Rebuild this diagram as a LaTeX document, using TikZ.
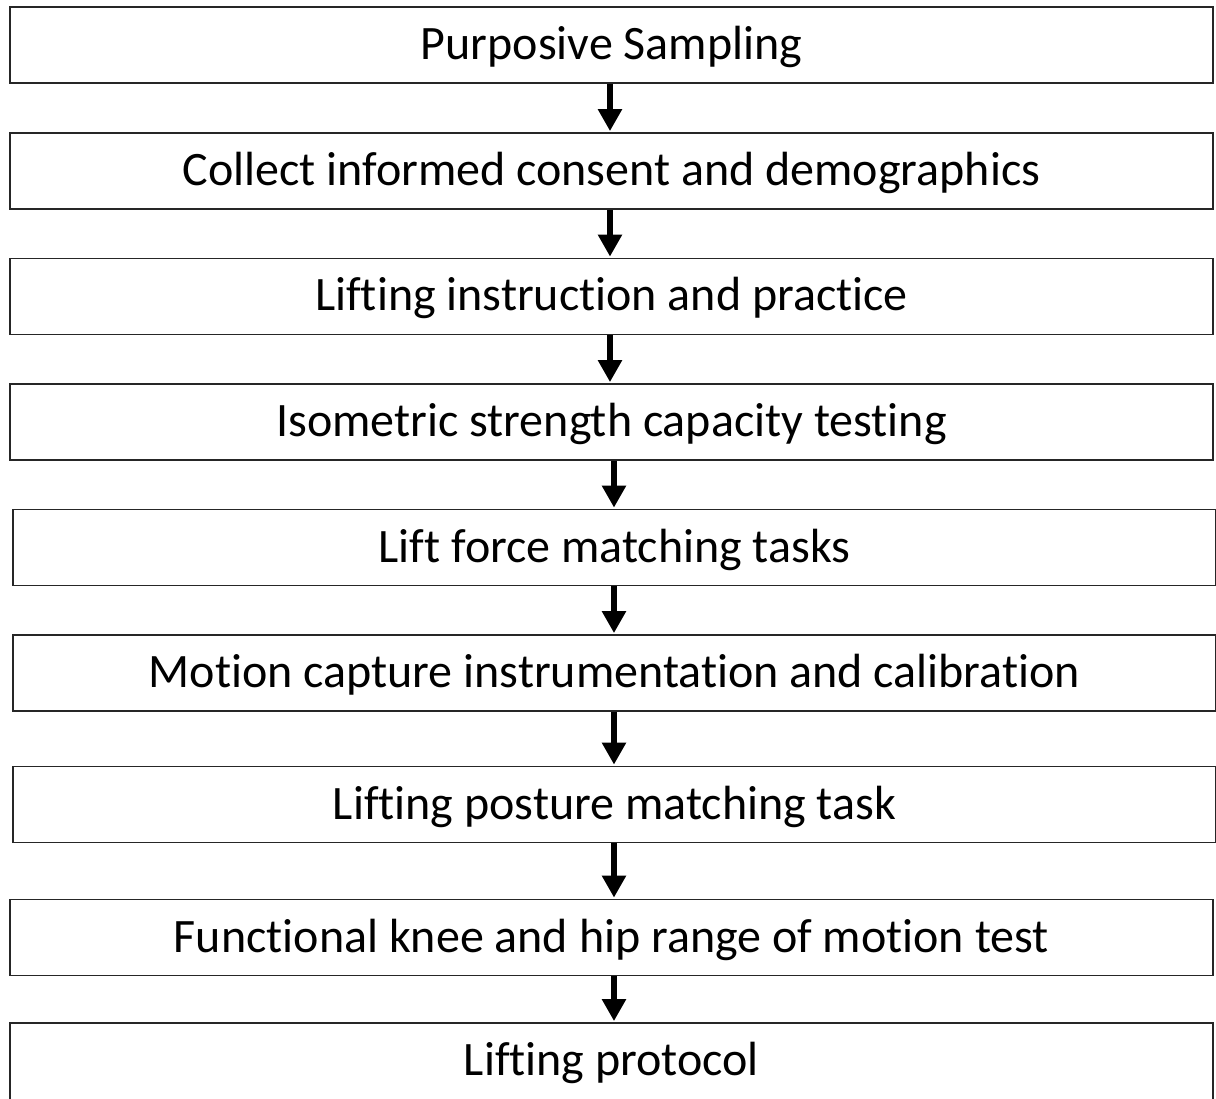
\documentclass[tikz,border=0pt]{standalone}
\usepackage{fontspec}
\setmainfont{Carlito}[Ligatures={NoCommon}]
\usetikzlibrary{arrows.meta}
\begin{document}
\begin{tikzpicture}[x=1pt,y=-1pt,
  stepbox/.style={draw=black!85, line width=1.8pt, fill=white, rectangle,
    inner sep=0pt, minimum width=1203pt, minimum height=76pt,
    text height=38pt, text depth=9pt,
    font=\fontsize{48}{57}\selectfont},
  flow/.style={line width=6pt, -{Triangle[width=23pt,length=22pt]}, shorten >=1pt}]
\useasboundingbox[fill=white] (0,0) rectangle (1216,1099);
\node[stepbox] (b1) at (611.5,45)   {Purposive Sampling};
\node[stepbox] (b2) at (611.5,171)  {Collect informed consent and demographics};
\node[stepbox] (b3) at (611.5,296.5){Lifting instruction and practice};
\node[stepbox] (b4) at (611.5,422)  {Isometric strength capacity testing};
\node[stepbox] (b5) at (614.5,547.5){Lift force matching tasks};
\node[stepbox] (b6) at (614.5,673)  {Motion capture instrumentation and calibration};
\node[stepbox] (b7) at (614.5,804.5){Lifting posture matching task};
\node[stepbox] (b8) at (611.5,937.5){Functional knee and hip range of motion test};
% the last box runs past the lower edge of the page
\node[stepbox, minimum height=84pt, text height=36pt, text depth=15pt] (b9) at (611.5,1065){Lifting protocol};
\draw[flow] ([xshift=-1.5pt]b1.south) -- ([xshift=-1.5pt]b2.north);
\draw[flow] ([xshift=-1.5pt]b2.south) -- ([xshift=-1.5pt]b3.north);
\draw[flow] ([xshift=-1.5pt]b3.south) -- ([xshift=-1.5pt]b4.north);
\draw[flow] ([xshift=2.5pt]b4.south) -- ([xshift=-0.5pt]b5.north);
\draw[flow] ([xshift=-0.5pt]b5.south) -- ([xshift=-0.5pt]b6.north);
\draw[flow] ([xshift=-0.5pt]b6.south) -- ([xshift=-0.5pt]b7.north);
\draw[flow] ([xshift=-0.5pt]b7.south) -- ([xshift=2.5pt]b8.north);
\draw[flow] ([xshift=2.5pt]b8.south) -- ([xshift=2.5pt]b9.north);
\end{tikzpicture}
\end{document}
